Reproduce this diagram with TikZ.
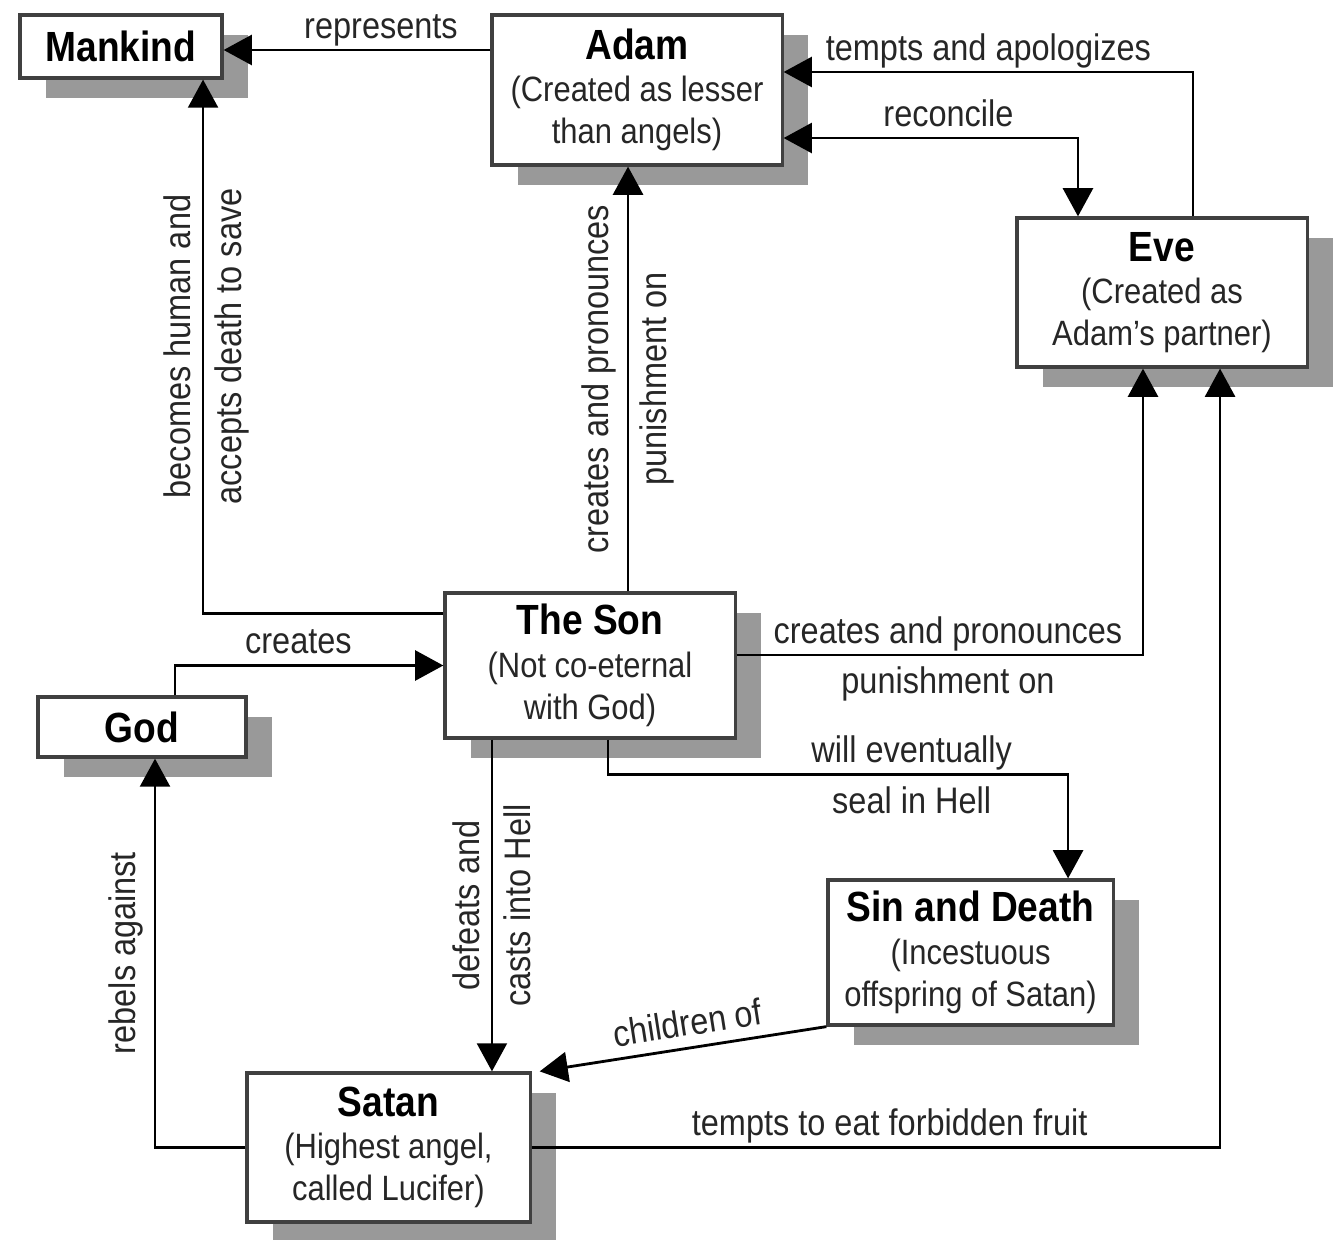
\documentclass[tikz,border=0pt]{standalone}
\usepackage{fontspec}
\setmainfont{Liberation Sans}[FakeStretch=0.88]
\usetikzlibrary{arrows.meta,shadows,calc}

\newcommand{\boxtitle}[1]{{\fontsize{12}{12}\selectfont\bfseries\color{black}#1}}

\begin{document}
\begin{tikzpicture}[x=0.01cm, y=-0.01cm,
  box/.style={draw=black!75, line width=0.9pt, fill=white, align=center,
    inner sep=2pt, font=\fontsize{10}{12}\selectfont, text=black!85,
    drop shadow={shadow xshift=0.26cm, shadow yshift=-0.2cm, fill=black!40, opacity=1}},
  lbl/.style={font=\fontsize{10.5}{12}\selectfont, text=black!85, inner sep=3pt},
  lblup/.style={lbl, above, text depth=0pt},
  arr/.style={line width=0.8pt, -{Triangle[length=8pt,width=8.5pt]}}]
\useasboundingbox (0,0) rectangle (1340,1240);

% boxes
\node[box, minimum width=2.02cm, minimum height=0.63cm] (Mankind) at (121,46.5) {\boxtitle{Mankind}};
\node[box, minimum width=2.90cm, minimum height=1.50cm] (Adam) at (637,90) {\boxtitle{Adam}\\(Created as lesser\\than angels)};
\node[box, minimum width=2.90cm, minimum height=1.49cm] (Eve) at (1162,292.5) {\boxtitle{Eve}\\(Created as\\Adam's partner)};
\node[box, minimum width=2.90cm, minimum height=1.45cm] (Son) at (590,665.5) {\boxtitle{The Son}\\(Not co-eternal\\with God)};
\node[box, minimum width=2.08cm, minimum height=0.60cm] (God) at (142,727) {\boxtitle{God}};
\node[box, minimum width=2.85cm, minimum height=1.45cm] (SinDeath) at (970.5,952.5) {\boxtitle{Sin and Death}\\(Incestuous\\offspring of Satan)};
\node[box, minimum width=2.83cm, minimum height=1.49cm] (Satan) at (388.5,1147.5) {\boxtitle{Satan}\\(Highest angel,\\called Lucifer)};

% connectors
\draw[arr] ([yshift=-0.035cm]Adam.west |- Mankind.east) -- ([yshift=-0.035cm]Mankind.east)
  node[lblup, pos=0.41]{represents};

\draw[arr] ([yshift=-0.22cm]Son.north west) -| ([xshift=0.82cm]Mankind.south)
  node[lbl, pos=0.75, rotate=90, anchor=south]{becomes human and}
  node[lbl, pos=0.75, rotate=90, anchor=north]{accepts death to save};

\draw[arr] ([xshift=0.38cm]Son.north) -- ([xshift=0.38cm]Son.north |- Adam.south)
  node[lbl, midway, rotate=90, anchor=south]{creates and pronounces}
  node[lbl, midway, rotate=90, anchor=north]{punishment on};

\draw[arr] ([xshift=0.31cm]Eve.north) |- ([yshift=0.18cm]Adam.east)
  node[lblup, pos=0.75]{tempts and apologizes};

\draw[arr, {Triangle[length=8pt,width=8.5pt]}-{Triangle[length=8pt,width=8.5pt]}]
  ([yshift=-0.48cm]Adam.east) -| ([xshift=-0.84cm]Eve.north)
  node[lblup, pos=0.28]{reconcile};

\draw[arr] ([yshift=0.105cm]Son.east) -| ([xshift=-0.19cm]Eve.south)
  node[lblup, pos=0.26]{creates and pronounces}
  node[lbl, pos=0.26, below]{punishment on};

\draw[arr] (Satan.east) -| ([xshift=0.58cm]Eve.south)
  node[lblup, pos=0.26]{tempts to eat forbidden fruit};

\draw[arr] ([xshift=0.33cm]God.north) |- (Son.west)
  node[lblup, pos=0.73]{creates};

\draw[arr] ([xshift=0.18cm]Son.south) -- ++(0,-0.35cm) -| ([xshift=0.975cm]SinDeath.north)
  node[lblup, pos=0.33]{will eventually}
  node[lbl, pos=0.33, below]{seal in Hell};

\draw[arr] ([xshift=-0.98cm]Son.south) -- ([xshift=-0.98cm]Son.south |- Satan.north)
  node[lbl, midway, rotate=90, anchor=south]{defeats and}
  node[lbl, midway, rotate=90, anchor=north]{casts into Hell};

\draw[arr] (Satan.west) -| ([xshift=0.13cm]God.south)
  node[lbl, pos=0.75, rotate=90, anchor=south]{rebels against};

\draw[arr] (SinDeath.south west) -- ([xshift=0.08cm]Satan.north east)
  node[lbl, pos=0.47, sloped, above]{children of};

\end{tikzpicture}
\end{document}
